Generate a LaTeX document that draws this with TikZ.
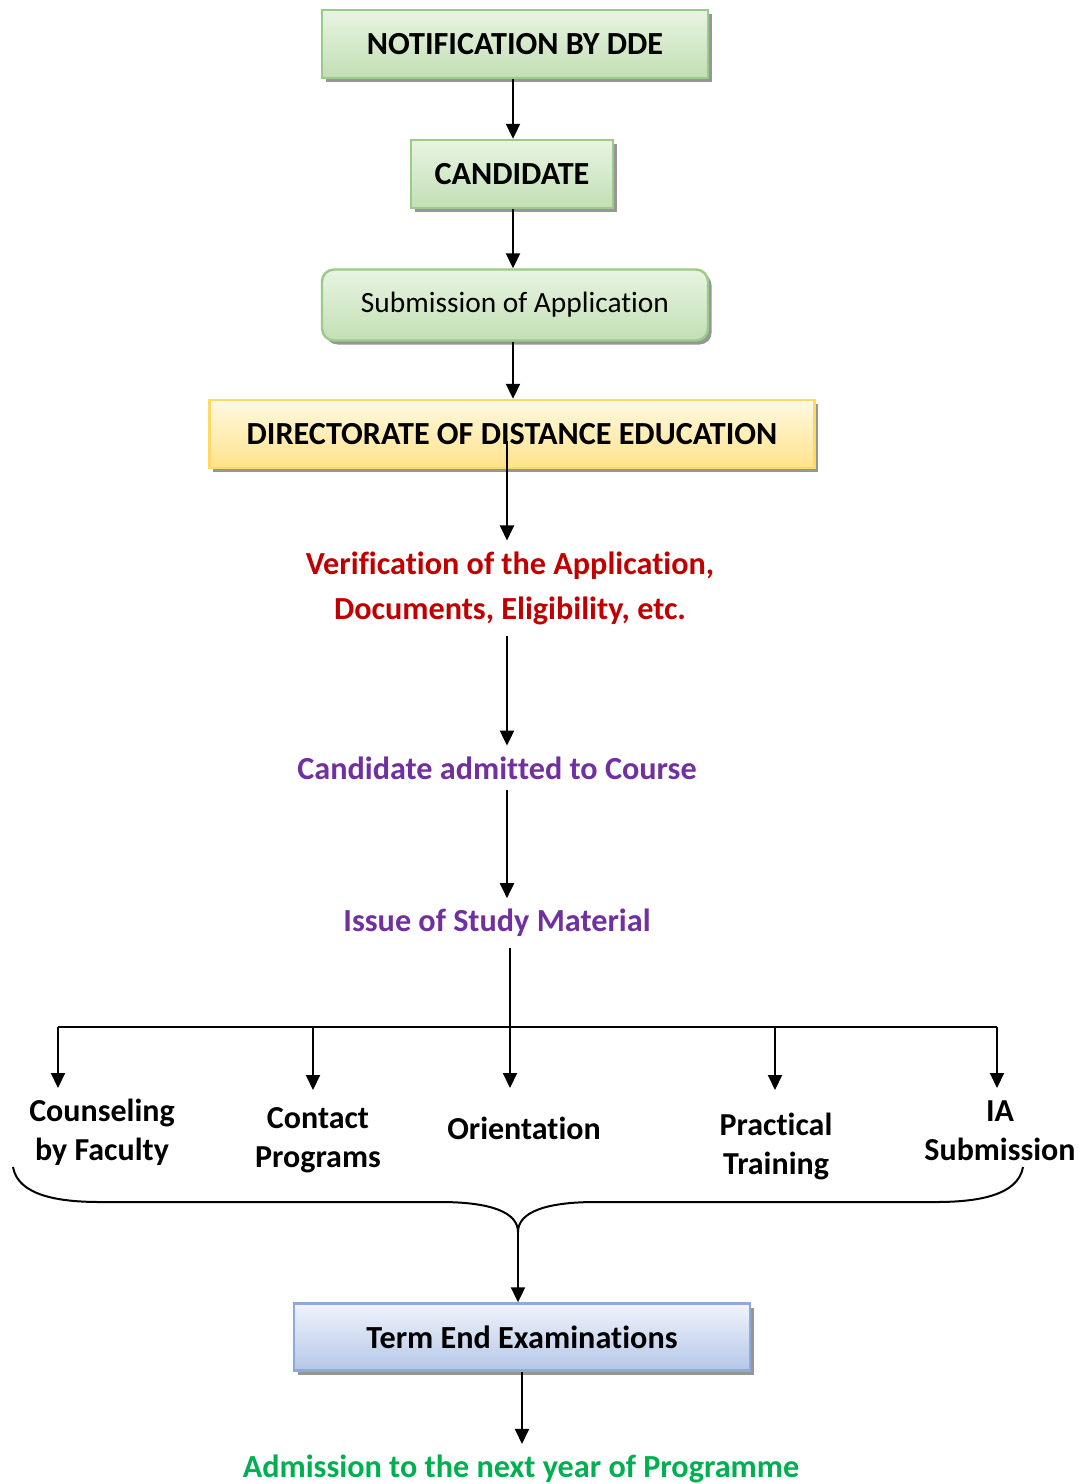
\documentclass[tikz,border=0pt]{standalone}
\usepackage{fontspec}
\setmainfont{Carlito}[Ligatures=NoCommon]
\usetikzlibrary{arrows.meta,shadows}
\definecolor{greentop}{RGB}{232,244,226}
\definecolor{greenbot}{RGB}{194,223,180}
\definecolor{greenline}{RGB}{155,203,139}
\definecolor{yellowtop}{RGB}{255,249,226}
\definecolor{yellowbot}{RGB}{255,226,138}
\definecolor{yellowline}{RGB}{255,217,102}
\definecolor{bluetop}{RGB}{240,244,252}
\definecolor{bluebot}{RGB}{180,198,231}
\definecolor{blueline}{RGB}{142,170,219}
\definecolor{shadowgrey}{RGB}{150,150,150}
\definecolor{darkred}{RGB}{192,0,0}
\definecolor{violet}{RGB}{112,48,160}
\definecolor{brightgreen}{RGB}{0,176,80}

\tikzset{
  box/.style={line width=1.2pt, inner sep=0pt, minimum height=34pt,
    drop shadow={shadow xshift=1.8pt, shadow yshift=-2pt, fill=shadowgrey, opacity=1},
    font=\bfseries\fontsize{16.1}{18}\selectfont},
  greenbox/.style={box, draw=greenline, top color=greentop, bottom color=greenbot},
  yellowbox/.style={box, draw=yellowline, top color=yellowtop, bottom color=yellowbot},
  bluebox/.style={box, draw=blueline, top color=bluetop, bottom color=bluebot},
  stage/.style={font=\bfseries\fontsize{16.1}{22.5}\selectfont, align=center, inner sep=5pt},
  branch/.style={font=\bfseries\fontsize{16}{19.5}\selectfont, align=center}
}

\begin{document}
\begin{tikzpicture}[x=0.5pt,y=-0.5pt,line width=1pt,>={Triangle[length=7.5pt,width=7pt]}]
    \useasboundingbox (0,0) rectangle (1085,1484);
    % boxes
    \node[greenbox, minimum width=193pt] (notif) at (515,44) {NOTIFICATION BY DDE};
    \node[greenbox, minimum width=101pt] (cand) at (512,174) {CANDIDATE};
    \node[greenbox, minimum width=193pt, minimum height=35.5pt, rounded corners=6pt,
      font=\fontsize{14.7}{18}\selectfont] (subm) at (515,305) {Submission of Application};
    \node[yellowbox, minimum width=302.5pt] (dde) at (512,434) {DIRECTORATE OF DISTANCE EDUCATION};
    \node[bluebox, minimum width=228pt, minimum height=33.5pt] (term) at (522,1337) {Term End Examinations};
    % stages
    \node[stage, text=darkred] (verif) at (510,588) {Verification of the Application,\\Documents, Eligibility, etc.};
    \node[stage, text=violet] (admit) at (497,768) {Candidate admitted to Course};
    \node[stage, text=violet] (issue) at (497,923) {Issue of Study Material};
    \node[stage, text=brightgreen] (next) at (521,1469) {Admission to the next year of Programme};
    % branch labels
    \node[branch] (couns) at (102,1132) {Counseling\\by Faculty};
    \node[branch] (contact) at (318,1140) {Contact\\Programs};
    \node[branch] (orient) at (524,1128) {Orientation};
    \node[branch] (pract) at (776,1146) {Practical\\Training};
    \node[branch] (ia) at (1000,1131) {IA\\Submission};
    % vertical arrows
    \draw[->] (notif.south -| 513,0) -- (cand.north -| 513,0);
    \draw[->] (cand.south -| 513,0) -- (subm.north -| 513,0);
    \draw[->] (subm.south -| 513,0) -- (dde.north -| 513,0);
    \coordinate (spine) at ([xshift=-2.5pt,yshift=-3.5pt]dde.center);
    \draw[->] (spine) -- (verif.north -| spine);
    \draw[->] (verif.south -| spine) -- (admit.north -| spine);
    \draw[->] (admit.south -| spine) -- (issue.north -| spine);
    % bar and branches
    \coordinate (barl) at (58,1027);
    \coordinate (barr) at (997,1027);
    \draw (issue.south -| 510,0) -- (barl -| 510,0);
    \draw (barl) -- (barr);
    \foreach \x/\y in {58/1088,313/1090,510/1088,775/1090,997/1088}
      \draw[->] (\x,1027) -- (\x,\y);
    % brace
    \coordinate (bracel) at (13,1167);
    \coordinate (bracer) at (1023,1167);
    \coordinate (tip) at (518,1232);
    \draw (bracel) .. controls (18,1196) and (60,1202) .. (100,1202) -- (440,1202)
      .. controls (490,1202) and (518,1212) .. (tip)
      .. controls (518,1212) and (546,1202) .. (596,1202) -- (936,1202)
      .. controls (976,1202) and (1018,1196) .. (bracer);
    \draw[->] (tip) -- (tip |- term.north);
    \draw[->] (term.south -| 522,0) -- (next.north -| 522,0);
\end{tikzpicture}
\end{document}
